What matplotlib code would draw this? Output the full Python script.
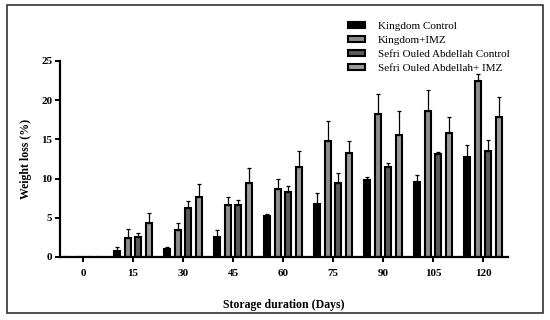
import matplotlib
matplotlib.use("Agg")
import matplotlib.pyplot as plt
import numpy as np
from matplotlib.patches import Rectangle

days = [0, 15, 30, 45, 60, 75, 90, 105, 120]
series_names = ["Kingdom Control", "Kingdom+IMZ",
                "Sefri Ouled Abdellah Control", "Sefri Ouled Abdellah+ IMZ"]
kingdom_control = [0, 0.75, 1.0, 2.5, 5.2, 6.7, 9.8, 9.6, 12.8]
kingdom_control_err = [0, 0.55, 0.3, 0.95, 0.25, 1.5, 0.35, 0.9, 1.5]
kingdom_imz = [0, 2.4, 3.5, 6.6, 8.7, 14.8, 18.3, 18.6, 22.4]
kingdom_imz_err = [0, 1.2, 0.8, 1.1, 1.3, 2.5, 2.45, 2.7, 0.9]
sefri_control = [0, 2.5, 6.3, 6.6, 8.25, 9.5, 11.5, 13.1, 13.55]
sefri_control_err = [0, 0.6, 0.9, 0.7, 0.75, 1.2, 0.45, 0.25, 1.35]
sefri_imz = [0, 4.4, 7.65, 9.5, 11.5, 13.3, 15.5, 15.8, 17.8]
sefri_imz_err = [0, 1.2, 1.65, 1.85, 2.0, 1.5, 3.1, 2.1, 2.65]
yticks = [0, 5, 10, 15, 20, 25]

values = [kingdom_control, kingdom_imz, sefri_control, sefri_imz]
errors = [kingdom_control_err, kingdom_imz_err, sefri_control_err, sefri_imz_err]
fills = ["black", "#8c8c8c", "#5a5a5a", "#9a9a9a"]

plt.rcParams['font.family'] = ['Liberation Serif', 'DejaVu Serif']

fig = plt.figure(figsize=(5.5, 3.2), dpi=100)
ax = fig.add_axes([60/550, 1-257/320, (508-60)/550, (257-61)/320])

x = np.arange(len(days))
step = 0.21
width = 0.115
handles = []
for i, (vals, errs, fc) in enumerate(zip(values, errors, fills)):
    pos = x + (i - 1.5) * step
    b = ax.bar(pos, vals, width=width, color=fc, edgecolor="black", linewidth=1.5,
               yerr=[np.zeros(len(errs)), errs], capsize=1.5,
               error_kw=dict(elinewidth=0.9, capthick=0.9, ecolor="black"),
               label=series_names[i], zorder=2)
    handles.append(b)

ax.set_xlim(-0.46, 8.5)
ax.set_ylim(0, 25)
ax.set_xticks(x)
ax.set_xticklabels([str(d) for d in days], fontsize=8, fontweight="bold")
ax.set_yticks(yticks)
ax.set_yticklabels([str(t) for t in yticks], fontsize=8, fontweight="bold")
for s in ["top", "right"]:
    ax.spines[s].set_visible(False)
for s in ["left", "bottom"]:
    ax.spines[s].set_linewidth(1.6)
ax.tick_params(axis="both", width=1.4, length=3.5, pad=5)
ax.tick_params(axis="y", pad=2)

ax.set_xlabel("Storage duration (Days)", fontsize=8.5, fontweight="bold", labelpad=15)
ax.set_ylabel("Weight loss (%)", fontsize=8.5, fontweight="bold", labelpad=7)

leg = fig.legend(handles=handles, labels=series_names, loc="upper left",
                 bbox_to_anchor=(342/550, 1-16/320), frameon=False, fontsize=8,
                 handlelength=1.6, handleheight=0.5, labelspacing=0.45,
                 handletextpad=1.1, borderpad=0)

fig.patches.append(Rectangle((7/550, 1-313/320), (543-7)/550, (313-5)/320,
                             transform=fig.transFigure, fill=False,
                             edgecolor="#333333", linewidth=1.2))

fig.savefig("out.png", dpi=100)
